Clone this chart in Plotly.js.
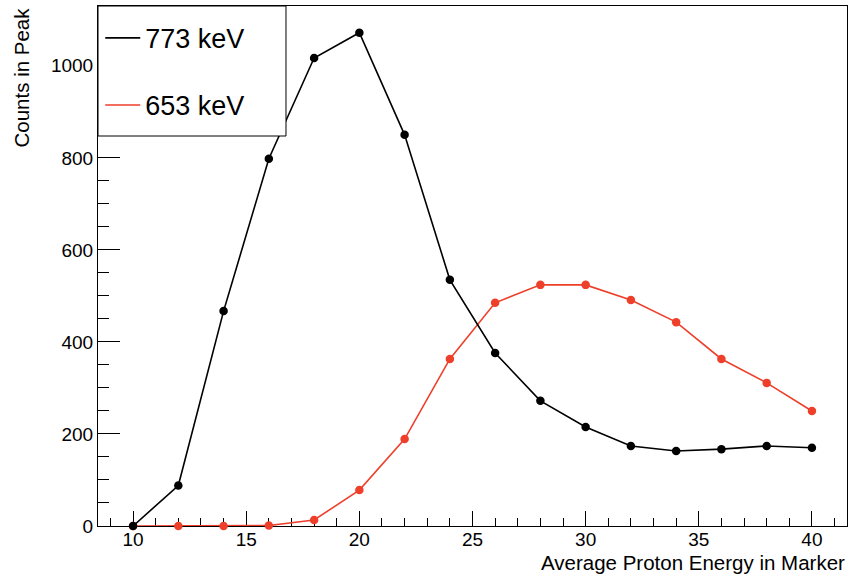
<!DOCTYPE html>
<html>
<head>
<meta charset="utf-8">
<script src="https://cdn.plot.ly/plotly-3.0.1.min.js"></script>
<style>html,body{margin:0;padding:0;background:#fff;}#chart{width:851px;height:577px;}</style>
</head>
<body>
<div id="chart"></div>
<script>
var energy = [10, 12, 14, 16, 18, 20, 22, 24, 26, 28, 30, 32, 34, 36, 38, 40];
var counts773 = [0, 88, 467, 798, 1017, 1072, 850, 535, 376, 272, 215, 174, 163, 167, 174, 170];
var counts653 = [0, 0, 0, 1, 13, 78, 189, 363, 485, 524, 524, 491, 443, 363, 311, 250];
var seriesNames = ["773 keV", "653 keV"];
var xTitle = "Average Proton Energy in Marker";
var yTitle = "Counts in Peak";

var black = "#000000", red = "#ee3f2b";
var font = "Liberation Sans, Arial, Helvetica, sans-serif";

var traces = [
  {x: energy, y: counts653, mode: "lines+markers", name: seriesNames[1], showlegend: false,
   cliponaxis: false,
   line: {color: red, width: 1.6}, marker: {color: red, size: 8.5}},
  {x: energy, y: counts773, mode: "lines+markers", name: seriesNames[0], showlegend: false,
   cliponaxis: false,
   line: {color: black, width: 1.6}, marker: {color: black, size: 8.5}},
  {x: [null], y: [null], mode: "lines", name: seriesNames[0], legendgroup: "a",
   line: {color: black, width: 1.6}},
  {x: [null], y: [null], mode: "lines", name: seriesNames[1], legendgroup: "b",
   line: {color: red, width: 1.6}}
];

var layout = {
  width: 851, height: 577,
  margin: {l: 98, r: 4, t: 6, b: 51},
  paper_bgcolor: "#fff", plot_bgcolor: "#fff",
  font: {family: font, size: 19, color: "#000"},
  showlegend: true,
  legend: {x: 0.003, y: 0.985, xanchor: "left", yanchor: "top",
           bgcolor: "rgba(0,0,0,0)", borderwidth: 0,
           font: {family: font, size: 27, color: "#000"},
           traceorder: "grouped", tracegroupgap: 29, itemwidth: 35},
  xaxis: {range: [8.45, 41.55], showgrid: false, zeroline: false, layer: "below traces",
          showline: true, linecolor: "#000", linewidth: 1, mirror: true,
          ticks: "inside", ticklen: 15, tickcolor: "#000", tickwidth: 1,
          tick0: 10, dtick: 5, ticklabelstandoff: -4,
          minor: {ticks: "inside", ticklen: 8, dtick: 1, tickcolor: "#000", showgrid: false},
          tickfont: {family: font, size: 19, color: "#000"}},
  yaxis: {range: [0, 1130], showgrid: false, zeroline: false, layer: "below traces",
          showline: true, linecolor: "#000", linewidth: 1, mirror: true,
          ticks: "inside", ticklen: 22, tickcolor: "#000", tickwidth: 1,
          tick0: 0, dtick: 200,
          minor: {ticks: "inside", ticklen: 11, dtick: 50, tickcolor: "#000", showgrid: false},
          tickfont: {family: font, size: 19, color: "#000"}},
  shapes: [
    {type: "rect", xref: "paper", yref: "paper", x0: 0, x1: 0.251, y0: 0.75, y1: 1,
     line: {color: "#000", width: 1}, fillcolor: "#fff", layer: "above"}
  ],
  annotations: [
    {xref: "paper", yref: "paper", x: 1, y: 0, yshift: -50, xanchor: "right", yanchor: "bottom",
     text: xTitle, showarrow: false, font: {family: font, size: 20.5, color: "#000"}},
    {xref: "paper", yref: "paper", x: 0, y: 1.0, xshift: -91, xanchor: "left", yanchor: "top",
     text: yTitle, textangle: -90, showarrow: false, font: {family: font, size: 20.5, color: "#000"}}
  ]
};

Plotly.newPlot("chart", traces, layout, {displayModeBar: false, staticPlot: true});
</script>
</body>
</html>
